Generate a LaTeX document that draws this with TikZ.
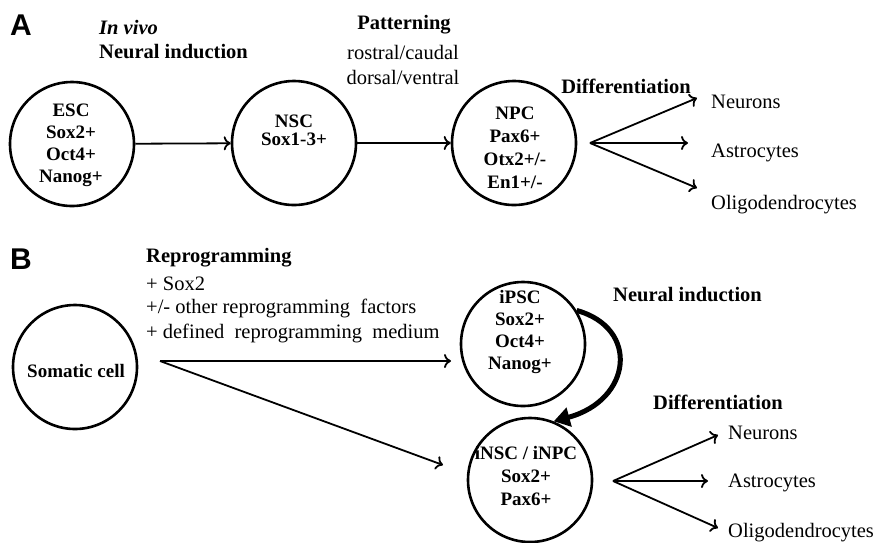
\documentclass[tikz,border=0pt]{standalone}
\usepackage{fontspec}
\setmainfont{Liberation Serif}
\setsansfont{Liberation Sans}
\usetikzlibrary{arrows.meta}
\begin{document}
\begin{tikzpicture}[x=1pt,y=-1pt,
  cell/.style={circle,draw,line width=2.6pt,minimum size=124pt,inner sep=0pt},
  ctext/.style={font=\fontsize{19}{22}\selectfont\bfseries,align=center,inner sep=0pt},
  head/.style={font=\fontsize{20.5}{24}\selectfont\bfseries,inner sep=0pt},
  plain/.style={font=\fontsize{20.5}{24}\selectfont,inner sep=0pt},
  panel/.style={font=\fontsize{30}{32}\selectfont\sffamily\bfseries,inner sep=0pt},
  arr/.style={line width=1.8pt,-{To[length=7pt,width=14pt,line width=1.8pt]}},
  thick arr/.style={line width=5pt,-{Triangle[length=16pt,width=19pt]}}]
\useasboundingbox (0,0) rectangle (877,542);
% ---------------- Panel A ----------------
\node[panel] (la) at (21,25) {A};
\node[plain,anchor=west] (invivo) at (99,27) {\textbf{\textit{In vivo}}};
\node[head,anchor=west] (nia) at (99,52) {Neural induction};
\node[head] (pat) at (404,25) {Patterning};
\node[plain] (rc) at (403,52) {rostral/caudal};
\node[plain] (dv) at (403,77) {dorsal/ventral};
\node[head] (diffa) at (626,86) {Differentiation};

\node[cell] (esc) at (72,144) {};
\node[ctext] (esct) at (71,145) {ESC\\Sox2+\\Oct4+\\Nanog+};
\node[cell] (nsc) at (294,143) {};
\node[ctext,font=\fontsize{19}{18}\selectfont\bfseries] (nsct) at (294,130) {NSC\\Sox1-3+};
\node[cell] (npc) at (514,143) {};
\node[ctext,font=\fontsize{19}{23}\selectfont\bfseries] (npct) at (515,148) {NPC\\Pax6+\\Otx2+/-\\En1+/-};

\draw[arr] (esc) -- (nsc);
\draw[arr] (nsc) -- (npc);

\coordinate (fa) at (590,143);
\coordinate (fa1) at (697,98);
\coordinate (fa2) at (688,143);
\coordinate (fa3) at (697,188);
\draw[arr] (fa) -- (fa1);
\draw[arr] (fa) -- (fa2);
\draw[arr] (fa) -- (fa3);
\node[plain,anchor=west] (neua) at (711,102) {Neurons};
\node[plain,anchor=west] (asta) at (711,153) {Astrocytes};
\node[plain,anchor=west] (olia) at (711,205) {Oligodendrocytes};

% ---------------- Panel B ----------------
\node[panel] (lb) at (21,259) {B};
\node[head,anchor=west] (rep) at (146,258) {Reprogramming};
\node[plain,anchor=west] (r1) at (146,284) {+ Sox2};
\node[plain,anchor=west] (r2) at (146,308) {+/- other reprogramming\ \ factors};
\node[plain,anchor=west] (r3) at (146,333) {+ defined\ \ reprogramming\ \ medium};

\node[cell] (som) at (75,367) {};
\node[ctext] (somt) at (76,371) {Somatic cell};

\node[cell] (ipsc) at (523,344) {};
\node[ctext,font=\fontsize{19}{22}\selectfont\bfseries] (ipsct) at (520,332) {iPSC\\Sox2+\\Oct4+\\Nanog+};
\node[cell] (insc) at (530,480) {};
\node[ctext,font=\fontsize{19}{23}\selectfont\bfseries] (insct) at (526,476) {iNSC / iNPC\\Sox2+\\Pax6+};

\coordinate (so) at (160,361);
\coordinate (t1) at (451,361);
\coordinate (t2) at (443,465);
\draw[arr] (so) -- (t1);
\draw[arr] (so) -- (t2);

\node[head,anchor=west] (nib) at (613,295) {Neural induction};
\draw[thick arr] (ipsc.32) .. controls (640,328) and (632,400) .. (insc.68);

\node[head,anchor=west] (diffb) at (653,402) {Differentiation};
\coordinate (fb) at (613,481);
\coordinate (fb1) at (718,435);
\coordinate (fb2) at (708,481);
\coordinate (fb3) at (718,528);
\draw[arr] (fb) -- (fb1);
\draw[arr] (fb) -- (fb2);
\draw[arr] (fb) -- (fb3);
\node[plain,anchor=west] (neub) at (728,433) {Neurons};
\node[plain,anchor=west] (astb) at (728,483) {Astrocytes};
\node[plain,anchor=west] (olib) at (728,533) {Oligodendrocytes};
\end{tikzpicture}
\end{document}
